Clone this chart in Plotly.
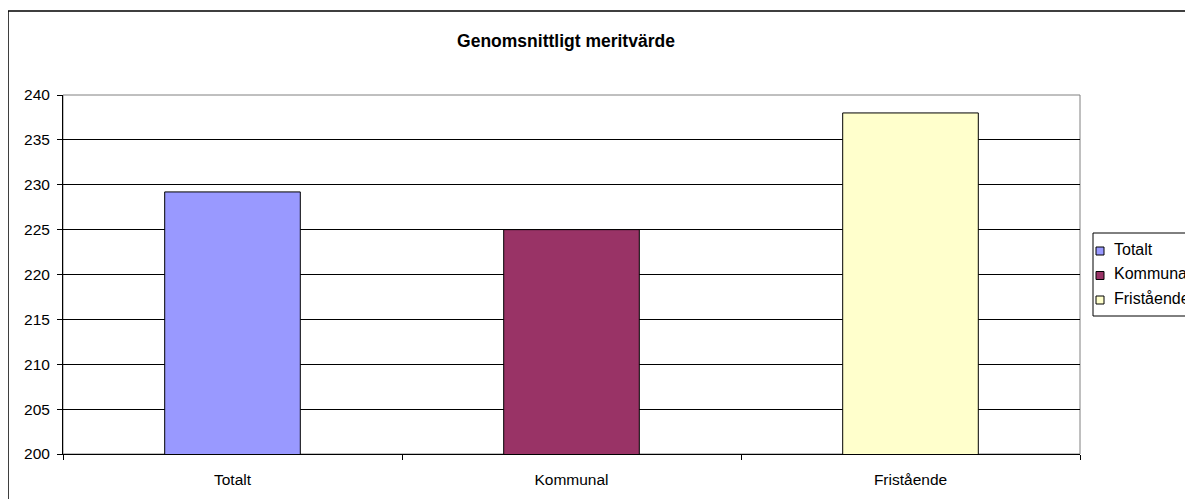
import plotly.graph_objects as go

# Data
categories = ["Totalt", "Kommunal", "Fristående"]
values = [229.2, 225.0, 238.0]
colors = ["#9999FF", "#993366", "#FFFFCC"]
y_ticks = [200, 205, 210, 215, 220, 225, 230, 235, 240]
title_text = "Genomsnittligt meritvärde"

# the page body has an 8px default margin; compensate so the figure lands at screen coords
OFF = 8
W, H = 1193, 499
L, R, T, B = 63 - OFF, 1080 - OFF, 95 - OFF, 454 - OFF
FONT = "Liberation Sans, Arial, sans-serif"


def px_x(px):
    # px given in screen coordinates
    return (px - OFF - L) / (R - L)


def px_y(py):
    return (B - (py - OFF)) / (B - T)


fig = go.Figure()
for cat, val, col in zip(categories, values, colors):
    fig.add_trace(go.Bar(
        x=[cat], y=[val], name=cat, width=0.4, base=0,
        marker=dict(color=col, line=dict(color="black", width=1)),
        showlegend=False,
    ))

shapes = []
# plot area border (gray)
shapes.append(dict(type="rect", xref="paper", yref="paper", x0=0, y0=0, x1=1, y1=1,
                   line=dict(color="#808080", width=1), layer="below"))
# outer chart border
shapes.append(dict(type="rect", xref="paper", yref="paper",
                   x0=px_x(8), y0=px_y(530), x1=px_x(1230), y1=px_y(11),
                   line=dict(color="black", width=1.5), layer="above"))
# custom legend box
shapes.append(dict(type="rect", xref="paper", yref="paper",
                   x0=px_x(1093), y0=px_y(316), x1=px_x(1230), y1=px_y(233),
                   line=dict(color="black", width=1), fillcolor="white", layer="above"))

annotations = []
row_y = [249, 273.5, 298]
for cat, col, ry in zip(categories, colors, row_y):
    shapes.append(dict(type="rect", xref="paper", yref="paper",
                       x0=px_x(1096), x1=px_x(1104), y0=px_y(ry + 6), y1=px_y(ry - 2),
                       line=dict(color="black", width=1), fillcolor=col, layer="above"))
    annotations.append(dict(text=cat, xref="paper", yref="paper",
                            x=px_x(1112), y=px_y(ry), xanchor="left", yanchor="middle",
                            showarrow=False, font=dict(family=FONT, size=16, color="black")))

fig.update_layout(
    width=W, height=H,
    margin=dict(l=L, r=W - R, t=T, b=H - B, pad=0),
    paper_bgcolor="white", plot_bgcolor="white",
    barmode="overlay",
    showlegend=False,
    title=dict(text="<b>" + title_text + "</b>", x=(566 - OFF) / W, xref="container", xanchor="center",
               y=1 - (41 - OFF) / H, yref="container", yanchor="middle",
               font=dict(family=FONT, size=17.5, color="black")),
    font=dict(family=FONT, size=15.5, color="black"),
    shapes=shapes,
    annotations=annotations,
)
fig.update_xaxes(
    type="category", categoryorder="array", categoryarray=categories,
    range=[-0.5, 2.5], showgrid=False, showline=True, linecolor="black", linewidth=1,
    ticks="outside", ticklen=5, tickcolor="black", tickson="boundaries",
    tickfont=dict(family=FONT, size=15.5, color="black"), ticklabelstandoff=11,
    zeroline=False,
)
fig.update_yaxes(
    range=[200, 240], tickvals=y_ticks, showgrid=True, gridcolor="black", gridwidth=1,
    showline=True, linecolor="black", linewidth=1,
    ticks="outside", ticklen=5, tickcolor="black",
    tickfont=dict(family=FONT, size=15.5, color="black"), ticklabelstandoff=4,
    zeroline=False,
)

fig.write_html("out.html")
